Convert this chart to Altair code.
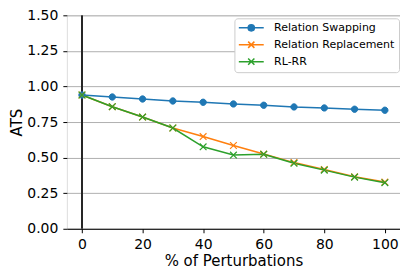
import altair as alt
import pandas as pd

perturb = [0, 10, 20, 30, 40, 50, 60, 70, 80, 90, 100]
swapping = [0.940, 0.926, 0.912, 0.898, 0.889, 0.877, 0.868, 0.856, 0.849, 0.840, 0.833]
replacement = [0.940, 0.858, 0.785, 0.708, 0.648, 0.585, 0.525, 0.465, 0.417, 0.365, 0.328]
rlrr = [0.940, 0.858, 0.785, 0.708, 0.576, 0.518, 0.523, 0.460, 0.412, 0.363, 0.324]

series = ["Relation Swapping", "Relation Replacement", "RL-RR"]
colors = ["#1f77b4", "#ff7f0e", "#2ca02c"]
y_ticks = [0, 0.25, 0.5, 0.75, 1.0, 1.25, 1.5]
x_ticks = [0, 20, 40, 60, 80, 100]

rows = []
for name, vals in zip(series, [swapping, replacement, rlrr]):
    for x, y in zip(perturb, vals):
        rows.append({"x": x, "y": y, "series": name})
df = pd.DataFrame(rows)

FONT = "DejaVu Sans"
circle_path = "M1,0A1,1 0 1 1 -1,0A1,1 0 1 1 1,0Z"
x_path = "M-1,-1L1,1M1,-1L-1,1"
leg_circle = "M-4,0L4,0M1,0A1,1 0 1 1 -1,0A1,1 0 1 1 1,0Z"
leg_x = "M-4,0L4,0M-1,-1L1,1M1,-1L-1,1"

xs = alt.Scale(domain=[-5, 105], nice=False, zero=False)
ys = alt.Scale(domain=[0, 1.5], nice=False)
cscale = alt.Scale(domain=series, range=colors)

x_enc = alt.X("x:Q", scale=xs, axis=alt.Axis(
    values=x_ticks, title="% of Perturbations", grid=False, domain=True,
    domainColor="black", tickColor="black", tickSize=4, labelPadding=5,
    labelFontSize=14, titleFontSize=15, titlePadding=2, labelColor="black",
    titleColor="black", titleFontWeight="normal", labelFont=FONT, titleFont=FONT,
    labelOverlap=False))
y_enc = alt.Y("y:Q", scale=ys, axis=alt.Axis(
    values=y_ticks, format=".2f", title="ATS", grid=True, gridColor="#b0b0b0",
    gridWidth=1, domain=False, tickColor="black", tickSize=4, labelPadding=5,
    labelFontSize=14, titleFontSize=15, titlePadding=2, labelColor="black",
    titleColor="black", titleFontWeight="normal", labelFont=FONT, titleFont=FONT,
    labelOverlap=False))

base = alt.Chart(df)

leg = alt.Legend(
    title=None, orient="none", legendX=168, legendY=3, labelFontSize=11,
    labelFont=FONT, labelColor="black", symbolSize=39, symbolStrokeWidth=1.5,
    symbolOffset=7.4, labelOffset=17.4, rowPadding=4, padding=4,
    strokeColor="#cccccc", fillColor="white", cornerRadius=3, symbolOpacity=1)

legend_layer = base.mark_point(filled=True, size=39, opacity=0).encode(
    x=x_enc, y=y_enc,
    shape=alt.Shape("series:N", scale=alt.Scale(domain=series, range=[leg_circle, leg_x, leg_x]), legend=leg),
    fill=alt.Fill("series:N", scale=cscale, legend=leg),
    stroke=alt.Stroke("series:N", scale=cscale, legend=leg))

vline = alt.Chart(pd.DataFrame({"v": [0]})).mark_rule(color="#262626", strokeWidth=2).encode(
    x=alt.X("v:Q", scale=xs))

lines = base.mark_line(strokeWidth=1.5).encode(
    x=x_enc, y=y_enc,
    stroke=alt.Stroke("series:N", scale=cscale, legend=None),
    detail="series:N")

pts_circle = base.transform_filter(alt.datum.series == "Relation Swapping").mark_point(
    filled=True, shape=circle_path, size=40, strokeWidth=1, opacity=1).encode(
    x=x_enc, y=y_enc,
    fill=alt.Fill("series:N", scale=cscale, legend=None),
    stroke=alt.Stroke("series:N", scale=cscale, legend=None))

pts_x = base.transform_filter(alt.datum.series != "Relation Swapping").mark_point(
    filled=True, shape=x_path, size=45, strokeWidth=1.2, opacity=1).encode(
    x=x_enc, y=y_enc,
    fill=alt.Fill("series:N", scale=cscale, legend=None),
    stroke=alt.Stroke("series:N", scale=cscale, legend=None))

chart = alt.layer(legend_layer, vline, lines, pts_circle, pts_x).properties(
    width=334, height=214,
    autosize=alt.AutoSizeParams(type="none"),
    padding={"left": 59, "top": 7, "right": 0, "bottom": 41},
).configure_view(stroke=None).configure(font=FONT)

chart.save("out.html", embed_options={"renderer": "svg", "actions": False})
